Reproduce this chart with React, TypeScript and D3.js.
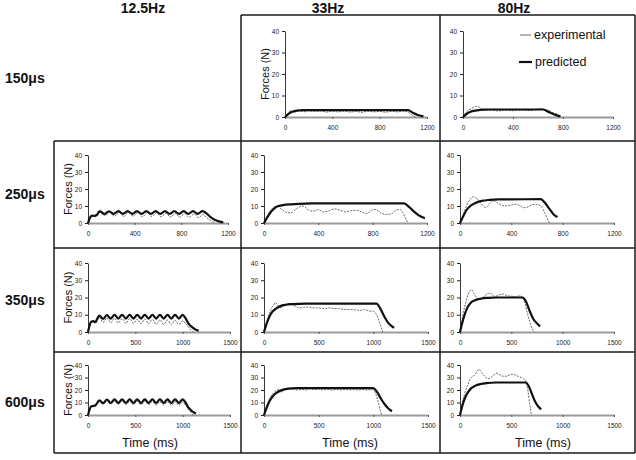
import React, { useEffect, useRef } from 'react';
import * as d3 from 'd3';

type Pt = [number, number];

// Labels
const freqLabels = ['12.5Hz', '33Hz', '80Hz'];
const pulseLabels = ['150\u03bcs', '250\u03bcs', '350\u03bcs', '600\u03bcs'];
const forceTicks = [0, 10, 20, 30, 40];
const timeTicksShort = [0, 400, 800, 1200];
const timeTicksLong = [0, 500, 1000, 1500];

// 150us
const pred150_33: Pt[] = [[0, 0], [30, 1.5], [60, 2.4], [100, 3], [150, 3.2], [1040, 3.2], [1080, 2], [1130, 0.8], [1170, 0.3]];
const exp150_33: Pt[] = [[0, 0], [20, 1.5], [50, 2.8], [80, 2.2], [120, 3], [160, 2.4], [200, 2.9], [250, 2.5], [300, 2.8], [350, 2.3], [400, 2.7], [450, 2.4], [500, 2.8], [550, 2.3], [600, 2.6], [650, 2.2], [700, 2.7], [750, 2.4], [800, 2.6], [850, 2.2], [900, 2.7], [950, 2.4], [1000, 2.8], [1040, 2.2], [1070, 1], [1100, 0]];
const pred150_80: Pt[] = [[0, 0], [30, 1.5], [60, 2.4], [100, 3], [160, 3.4], [200, 3.5], [640, 3.5], [680, 2.5], [730, 1.2], [780, 0.3]];
const exp150_80: Pt[] = [[0, 0], [30, 2.5], [70, 4], [110, 5], [140, 4.2], [170, 3], [220, 3.3], [280, 2.8], [340, 3.2], [400, 2.9], [460, 3.3], [520, 3], [580, 3.4], [620, 4], [650, 3.3], [690, 3], [720, 2], [750, 1.5]];

// 250us
const pred250_12: Pt[] = [[0, 0], [15, 3], [35, 4.3], [55, 4.2], [75, 4.8], [100, 6.8], [140, 5.3], [180, 6.9], [220, 5.4], [260, 7], [300, 5.4], [340, 7], [380, 5.4], [420, 7], [460, 5.4], [500, 7], [540, 5.4], [580, 7], [620, 5.4], [660, 7], [700, 5.4], [740, 7], [780, 5.4], [820, 7], [860, 5.4], [900, 7], [940, 5.4], [980, 7], [1010, 6], [1050, 3.5], [1090, 1.8], [1130, 0.8], [1160, 0.3]];
const exp250_12: Pt[] = [[0, 0], [20, 2.5], [45, 4], [70, 3.6], [110, 7.8], [145, 4.2], [190, 6.5], [225, 4], [270, 6.3], [305, 3.8], [350, 6.4], [385, 4], [430, 6.2], [465, 3.6], [510, 6], [545, 3.8], [590, 6.1], [625, 3.7], [670, 5.8], [705, 3.5], [750, 5.7], [785, 3.4], [830, 5.5], [865, 3.3], [910, 5.3], [945, 3.2], [990, 5], [1020, 3], [1050, 1.5], [1080, 0.3]];
const pred250_33: Pt[] = [[0, 0], [25, 3.5], [50, 6.5], [75, 8.5], [100, 9.8], [140, 10.5], [200, 11], [260, 11.3], [350, 11.5], [1030, 11.5], [1060, 10], [1100, 7], [1140, 4.5], [1185, 2.8]];
const exp250_33: Pt[] = [[0, 0], [25, 4], [50, 7.5], [75, 9.5], [100, 9.8], [130, 8], [170, 6.2], [200, 6], [240, 8.5], [280, 10], [300, 9.5], [330, 7.5], [360, 7], [400, 7.8], [440, 6.5], [480, 7.2], [520, 8.3], [560, 7.5], [600, 6.5], [640, 7.2], [680, 7.5], [720, 6.5], [760, 5.5], [790, 7.5], [820, 8], [860, 6], [900, 5], [940, 5.5], [970, 7.5], [1000, 8], [1020, 6.5], [1040, 3], [1060, 0]];
const pred250_80: Pt[] = [[0, 0], [25, 4], [50, 7.5], [80, 10], [120, 11.8], [170, 13], [230, 13.6], [300, 13.9], [630, 14], [660, 12], [700, 8], [730, 5], [760, 3.5]];
const exp250_80: Pt[] = [[0, 0], [25, 5], [50, 10], [80, 14], [105, 15.5], [130, 14.5], [160, 12], [200, 9], [230, 11.5], [260, 13], [290, 12], [320, 10.5], [350, 10], [390, 10.5], [440, 11], [470, 10], [500, 9], [530, 9.5], [570, 11], [600, 10.8], [630, 10], [660, 6], [690, 1], [700, 0]];

// 350us
const pred350_12: Pt[] = [[0, 0], [15, 3.5], [35, 6], [55, 6.3], [75, 5.8], [120, 9.5], [160, 7.6], [200, 9.8], [240, 7.8], [280, 9.9], [320, 7.8], [360, 9.9], [400, 7.8], [440, 9.9], [480, 7.8], [520, 9.9], [560, 7.8], [600, 9.9], [640, 7.8], [680, 9.9], [720, 7.8], [760, 9.9], [800, 7.8], [840, 9.9], [880, 7.8], [920, 9.9], [960, 7.8], [1000, 9.9], [1030, 8], [1060, 5], [1100, 2.8], [1140, 1.3], [1170, 0.8]];
const exp350_12: Pt[] = [[0, 0], [20, 3.5], [40, 6], [60, 5.5], [80, 5], [120, 8.5], [160, 5.5], [200, 8.2], [240, 5.3], [280, 8], [320, 5.2], [360, 7.8], [400, 5], [440, 7.8], [480, 5], [520, 7.5], [560, 4.8], [600, 7.5], [640, 4.8], [680, 7.3], [720, 4.5], [760, 7], [800, 4.4], [840, 7], [880, 4.4], [920, 6.8], [960, 4.3], [1000, 6.5], [1030, 5], [1060, 3], [1090, 1], [1110, 0]];
const pred350_33: Pt[] = [[0, 0], [25, 5], [50, 9], [80, 12], [110, 13.5], [150, 15], [200, 15.8], [260, 16.2], [380, 16.5], [1030, 16.5], [1060, 14], [1100, 9], [1140, 5], [1170, 3.3], [1190, 2.5]];
const exp350_33: Pt[] = [[0, 0], [25, 6], [50, 11], [80, 15], [105, 17], [130, 15], [150, 14], [180, 15], [210, 16.2], [240, 16.5], [260, 15.5], [290, 15], [320, 14], [360, 14.2], [400, 14.5], [440, 14], [480, 14], [520, 13.8], [560, 13.5], [600, 14], [640, 13.5], [680, 13.6], [720, 13.2], [760, 13], [800, 13], [840, 12.8], [880, 12.5], [920, 13], [960, 12.2], [1000, 12], [1030, 10], [1060, 5], [1085, 0]];
const pred350_80: Pt[] = [[0, 0], [25, 6], [50, 11], [75, 14.5], [105, 17], [140, 18.3], [200, 19.3], [280, 19.8], [350, 20], [610, 20], [640, 18], [680, 12], [710, 8], [750, 5], [780, 3.2]];
const exp350_80: Pt[] = [[0, 0], [25, 9], [55, 17], [80, 22], [110, 24.5], [140, 22], [170, 19.5], [200, 19], [240, 21], [280, 22.5], [310, 22], [340, 20.5], [380, 21.5], [420, 22], [460, 21], [500, 20.8], [540, 20.5], [580, 21], [600, 20.5], [630, 17], [660, 10], [690, 4], [720, 0]];

// 600us
const pred600_12: Pt[] = [[0, 0], [15, 4], [35, 7], [60, 7.3], [80, 7.8], [120, 11.8], [160, 9.5], [200, 12.4], [240, 9.6], [280, 12.5], [320, 9.6], [360, 12.5], [400, 9.6], [440, 12.5], [480, 9.6], [520, 12.5], [560, 9.6], [600, 12.5], [640, 9.6], [680, 12.5], [720, 9.6], [760, 12.5], [800, 9.6], [840, 12.5], [880, 9.6], [920, 12.5], [960, 9.6], [1000, 12.5], [1030, 10], [1060, 6], [1100, 3], [1140, 1.2]];
const exp600_12: Pt[] = [[0, 0], [20, 4], [40, 7], [70, 7], [90, 8], [120, 11], [160, 8.5], [200, 11.3], [240, 8.6], [280, 11.2], [320, 8.5], [360, 11.2], [400, 8.4], [440, 11], [480, 8.3], [520, 11], [560, 8.2], [600, 11], [640, 8.2], [680, 10.8], [720, 8], [760, 10.6], [800, 8], [840, 10.5], [880, 7.8], [920, 10.5], [960, 7.8], [1000, 10.2], [1030, 8], [1060, 5], [1090, 2], [1110, 0]];
const pred600_33: Pt[] = [[0, 0], [25, 6], [50, 11], [80, 15], [110, 17.5], [150, 19.5], [200, 20.7], [260, 21.3], [300, 21.5], [1000, 21.5], [1030, 19], [1070, 13], [1100, 9], [1140, 5], [1170, 3]];
const exp600_33: Pt[] = [[0, 0], [25, 7], [50, 13], [80, 17], [110, 19.5], [130, 20.5], [160, 18], [190, 21], [220, 20.5], [260, 21], [300, 20], [340, 20.5], [380, 20], [420, 21], [460, 20.3], [500, 20.8], [540, 20], [580, 20.5], [620, 20], [660, 20.6], [700, 20], [740, 20.5], [780, 20], [820, 20.4], [860, 20], [900, 20.5], [940, 20], [980, 20.3], [1010, 19], [1040, 12], [1060, 5], [1075, 0]];
const pred600_80: Pt[] = [[0, 0], [25, 8], [50, 14], [80, 18.5], [110, 21.5], [150, 23.5], [200, 24.8], [270, 25.6], [350, 26], [640, 26], [670, 23], [700, 17], [730, 11], [760, 7], [790, 4.5]];
const exp600_80: Pt[] = [[0, 0], [20, 9], [45, 17], [70, 23], [100, 29], [130, 31], [160, 34], [185, 36.5], [210, 34], [240, 31], [270, 29], [300, 30], [330, 32], [360, 33.5], [390, 32], [420, 31], [450, 31], [480, 32], [510, 32.5], [540, 32], [580, 30.5], [620, 29], [640, 27], [660, 20], [680, 8], [695, 0]];

// rows: y pixel of 0 and 40 N
const rowBox = [
  { zero: 117, top: 31 },
  { zero: 223, top: 155 },
  { zero: 332, top: 263 },
  { zero: 415, top: 365 },
];
const rowLabelY = [78, 194, 300, 402];

const panels = [
  { row: 0, col: 1, x0: 285, x1: 427, ticks: timeTicksShort, pred: pred150_33, exp: exp150_33, forces: true },
  { row: 0, col: 2, x0: 463, x1: 613, ticks: timeTicksShort, pred: pred150_80, exp: exp150_80, forces: false },
  { row: 1, col: 0, x0: 88, x1: 228, ticks: timeTicksShort, pred: pred250_12, exp: exp250_12, forces: true },
  { row: 1, col: 1, x0: 264, x1: 427, ticks: timeTicksShort, pred: pred250_33, exp: exp250_33, forces: false },
  { row: 1, col: 2, x0: 460, x1: 614, ticks: timeTicksShort, pred: pred250_80, exp: exp250_80, forces: false },
  { row: 2, col: 0, x0: 88, x1: 230, ticks: timeTicksLong, pred: pred350_12, exp: exp350_12, forces: true },
  { row: 2, col: 1, x0: 264, x1: 428, ticks: timeTicksLong, pred: pred350_33, exp: exp350_33, forces: false },
  { row: 2, col: 2, x0: 460, x1: 614, ticks: timeTicksLong, pred: pred350_80, exp: exp350_80, forces: false },
  { row: 3, col: 0, x0: 88, x1: 230, ticks: timeTicksLong, pred: pred600_12, exp: exp600_12, forces: true },
  { row: 3, col: 1, x0: 264, x1: 428, ticks: timeTicksLong, pred: pred600_33, exp: exp600_33, forces: false },
  { row: 3, col: 2, x0: 460, x1: 614, ticks: timeTicksLong, pred: pred600_80, exp: exp600_80, forces: false },
];

const font = '"Liberation Sans", Arial, sans-serif';

const App: React.FC = () => {
  const svgRef = useRef<SVGSVGElement>(null);

  useEffect(() => {
    if (!svgRef.current) return;
    const svg = d3.select(svgRef.current);
    svg.selectAll('*').remove();

    // Frame of the grid
    const frame = svg.append('g').attr('stroke', '#1a1a1a').attr('stroke-width', 1.5);
    [[241, 635, 15], [54, 635, 141], [54, 635, 248], [54, 635, 352], [54, 635, 453]].forEach(([a, b, yy]) => {
      frame.append('line').attr('x1', a).attr('x2', b).attr('y1', yy).attr('y2', yy);
    });
    [[54, 141, 453], [241, 15, 453], [440, 15, 453], [635, 15, 453]].forEach(([xx, a, b]) => {
      frame.append('line').attr('x1', xx).attr('x2', xx).attr('y1', a).attr('y2', b);
    });

    // Column and row headers
    const colX = [143, 328, 514];
    freqLabels.forEach((t, i) => {
      svg.append('text').attr('x', colX[i]).attr('y', 13).attr('text-anchor', 'middle')
        .attr('font-family', font).attr('font-weight', 'bold').attr('font-size', 14).attr('fill', '#111').text(t);
    });
    pulseLabels.forEach((t, i) => {
      svg.append('text').attr('x', 5).attr('y', rowLabelY[i]).attr('dy', '0.35em')
        .attr('font-family', font).attr('font-weight', 'bold').attr('font-size', 14).attr('fill', '#111').text(t);
    });

    panels.forEach(p => {
      const box = rowBox[p.row];
      const x = d3.scaleLinear().domain([0, p.ticks[p.ticks.length - 1]]).range([p.x0, p.x1]);
      const y = d3.scaleLinear().domain([0, 40]).range([box.zero, box.top]);
      const g = svg.append('g');

      // x axis
      const xa = g.append('g').attr('transform', `translate(0,${y(0)})`)
        .call(d3.axisBottom(x).tickValues(p.ticks).tickFormat(d3.format('d')).tickSize(2).tickSizeOuter(0).tickPadding(6));
      xa.select('.domain').attr('stroke', '#9a9a9a').attr('stroke-width', 2);
      xa.selectAll('line').attr('stroke', '#555');
      xa.selectAll('text').attr('font-family', font).attr('font-size', 6.5).attr('fill', '#222');

      // y axis
      const ya = g.append('g').attr('transform', `translate(${x(0)},0)`)
        .call(d3.axisLeft(y).tickValues(forceTicks).tickFormat(d3.format('d')).tickSize(3).tickSizeOuter(0).tickPadding(3));
      ya.select('.domain').attr('stroke', '#222').attr('stroke-width', 0.9);
      ya.selectAll('line').attr('stroke', '#222');
      ya.selectAll('text').attr('font-family', font).attr('font-size', 6.5).attr('fill', '#222');

      const line = d3.line<Pt>().x(d => x(d[0])).y(d => y(d[1])).curve(d3.curveMonotoneX);

      g.append('path').datum(p.exp).attr('d', line).attr('fill', 'none')
        .attr('stroke', '#444').attr('stroke-width', 0.8).attr('stroke-dasharray', '2,1.2');
      g.append('path').datum(p.pred).attr('d', line).attr('fill', 'none')
        .attr('stroke', '#111').attr('stroke-width', 2.2);

      if (p.forces) {
        const lx = p.col === 0 ? 68 : 265;
        const ly = (box.zero + box.top) / 2;
        g.append('text').attr('transform', `translate(${lx},${ly}) rotate(-90)`)
          .attr('text-anchor', 'middle').attr('dy', '0.35em')
          .attr('font-family', font).attr('font-size', 11).attr('fill', '#111').text('Forces (N)');
      }
      if (p.row === 3) {
        const tx = [150, 350, 543][p.col];
        g.append('text').attr('x', tx).attr('y', 443).attr('dy', '0.35em').attr('text-anchor', 'middle')
          .attr('font-family', font).attr('font-size', 12.5).attr('fill', '#111').text('Time (ms)');
      }
    });

    // Legend
    const leg = svg.append('g');
    leg.append('line').attr('x1', 520).attr('x2', 531).attr('y1', 35).attr('y2', 35)
      .attr('stroke', '#444').attr('stroke-width', 0.8);
    leg.append('text').attr('x', 534).attr('y', 35).attr('dy', '0.35em')
      .attr('font-family', font).attr('font-size', 12.5).attr('fill', '#111').text('experimental');
    leg.append('line').attr('x1', 519).attr('x2', 532).attr('y1', 62).attr('y2', 62)
      .attr('stroke', '#111').attr('stroke-width', 2.2);
    leg.append('text').attr('x', 535).attr('y', 62).attr('dy', '0.35em')
      .attr('font-family', font).attr('font-size', 12.5).attr('fill', '#111').text('predicted');
  }, []);

  return (
    <svg ref={svgRef} width={636} height={460}
      style={{ position: 'absolute', left: 0, top: 0, background: '#fff' }} />
  );
};

export default App;
